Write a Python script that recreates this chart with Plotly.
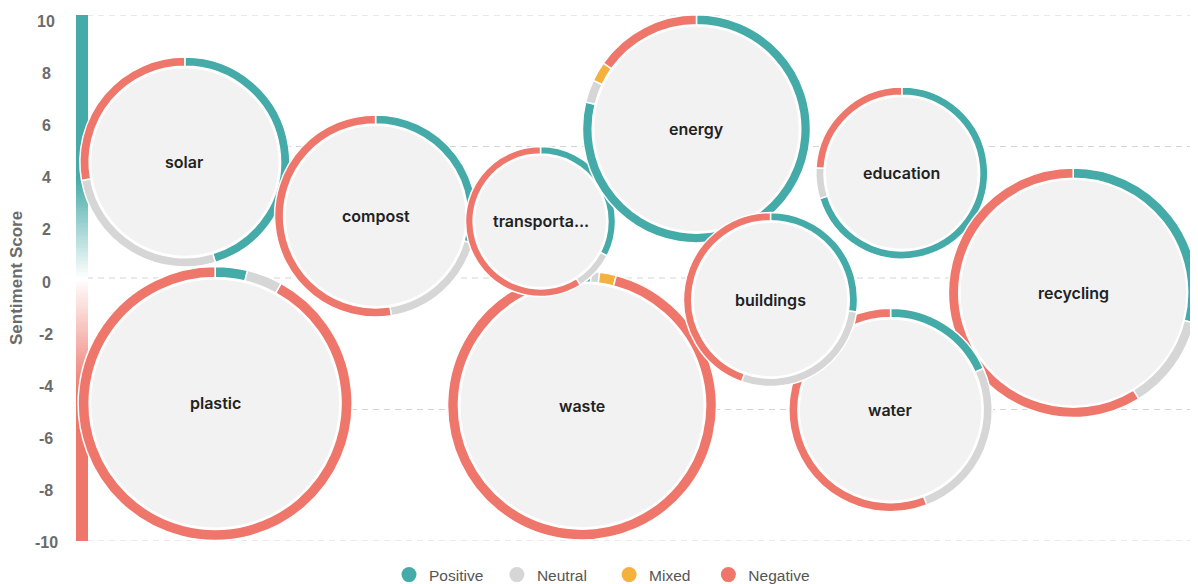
import numpy as np
import plotly.graph_objects as go

# topic bubbles: position on the (hidden) x axis, sentiment score, mention volume
topics = ["solar", "plastic", "compost", "waste", "transportation", "energy",
          "education", "recycling", "water", "buildings"]
x_pos = [9.7, 12.4, 26.7, 45.1, 41.4, 55.3, 73.6, 88.9, 72.6, 61.9]
sentiment_score = [4.41, -4.77, 2.36, -4.85, 2.15, 5.67, 3.99, -0.56, -5.02, -0.82]
mentions = [544, 927, 504, 893, 278, 642, 365, 772, 511, 374]

# sentiment split per topic (%)
positive = [45.3, 3.8, 29.4, 1.1, 32.6, 78.8, 70.2, 28.9, 18.3, 27.3]
neutral = [26.9, 4.2, 18.1, 1.0, 8.5, 3.2, 5.8, 12.3, 25.9, 28.1]
mixed = [0, 0, 0, 2.0, 0, 2.8, 0, 0, 0, 0]
negative = [27.8, 92.0, 52.5, 95.9, 58.9, 15.2, 24.0, 58.8, 55.8, 44.6]

sentiments = ["Positive", "Neutral", "Mixed", "Negative"]
score_ticks = [-10, -8, -6, -4, -2, 0, 2, 4, 6, 8, 10]
grid_scores = [-10, -5, 0, 5, 10]

COLORS = {"Positive": "#45ABA8", "Neutral": "#D6D6D6", "Mixed": "#F4B13D", "Negative": "#EE766B"}
FILL = "#F2F2F2"
AXIS_GREY = "#6B6B6B"

# page body has an 8px margin; the figure's right edge sits on the window edge
FIG_W, FIG_H = 1190, 584
X_DOM = [68 / FIG_W, 1.0]
Y_DOM = [51 / FIG_H, 577 / FIG_H]
X_RANGE = [0, 100]
Y_RANGE = [-10, 10]
R_SCALE = 4.5  # px per sqrt(mention)


def to_px(x, y):
    fx = X_DOM[0] + (x - X_RANGE[0]) / (X_RANGE[1] - X_RANGE[0]) * (X_DOM[1] - X_DOM[0])
    fy = Y_DOM[0] + (y - Y_RANGE[0]) / (Y_RANGE[1] - Y_RANGE[0]) * (Y_DOM[1] - Y_DOM[0])
    return fx * FIG_W, fy * FIG_H


def domain(cx, cy, r):
    return dict(
        x=[max(0.0, (cx - r) / FIG_W), min(1.0, (cx + r) / FIG_W)],
        y=[max(0.0, (cy - r) / FIG_H), min(1.0, (cy + r) / FIG_H)],
    )


fig = go.Figure()

# colour scale bar along the y axis
bar_y = np.linspace(Y_RANGE[0], Y_RANGE[1], 201)
fig.add_heatmap(
    x=[0], y=bar_y, z=[[v] for v in bar_y], xaxis="x2", yaxis="y",
    zmin=-10, zmax=10, showscale=False, hoverinfo="skip",
    colorscale=[[0, COLORS["Negative"]], [0.28, COLORS["Negative"]], [0.5, "#FFFFFF"],
                [0.69, COLORS["Positive"]], [1, COLORS["Positive"]]],
)

for i, name in enumerate(topics):
    cx, cy = to_px(x_pos[i], sentiment_score[i])
    r = R_SCALE * np.sqrt(mentions[i])
    ring_w = 3.5 + 0.055 * r
    vals = [positive[i], neutral[i], mixed[i], negative[i]]
    labs = [s for s, v in zip(sentiments, vals) if v > 0]
    vals = [v for v in vals if v > 0]

    fig.add_pie(
        values=[1], domain=domain(cx, cy, r - ring_w), sort=False,
        marker=dict(colors=[FILL], line=dict(color="white", width=4)),
        textinfo="none", hoverinfo="skip", showlegend=False,
    )
    fig.add_pie(
        values=vals, labels=labs, domain=domain(cx, cy, r), hole=(r - ring_w) / r,
        sort=False, direction="clockwise", rotation=0,
        marker=dict(colors=[COLORS[s] for s in labs], line=dict(color="white", width=1.5)),
        textinfo="none", hovertemplate=f"{name}<br>%{{label}}: %{{value}}%<extra></extra>",
        showlegend=False,
    )
    label = name if len(name) <= 11 else name[:10] + "..."
    fig.add_annotation(
        x=x_pos[i], y=sentiment_score[i], text=label, showarrow=False,
        font=dict(family="Inter", size=16, color="#222222", weight=600),
    )

# legend entries (non-breaking spaces widen the gaps between items)
legend_pad = {"Positive": 2, "Neutral": 4, "Mixed": 3, "Negative": 0}
for s in sentiments:
    fig.add_scatter(
        x=[None], y=[None], mode="markers", name=s + "\u00a0" * legend_pad[s],
        marker=dict(size=15, color=COLORS[s]),
    )

for g in grid_scores:
    fig.add_shape(
        type="line", xref="x domain", yref="y", x0=0, x1=1, y0=g, y1=g,
        line=dict(color="#D4D4D4", width=1, dash="6px,5px"), layer="below",
    )

# centred tick labels left of the colour bar
for t in score_ticks:
    fig.add_annotation(
        xref="paper", yref="y", x=38 / FIG_W, y=t, text=str(t), showarrow=False,
        xanchor="center", yshift=-(4 + 0.25 * t),
        font=dict(family="Liberation Sans", size=16, color=AXIS_GREY, weight="bold"),
    )
fig.add_annotation(
    xref="paper", yref="y", x=8 / FIG_W, y=0, text="Sentiment Score", showarrow=False,
    textangle=-90, xanchor="center",
    font=dict(family="Liberation Sans", size=17, color=AXIS_GREY, weight="bold"),
)

fig.update_layout(
    width=FIG_W, height=FIG_H, template="none",
    margin=dict(l=0, r=0, t=0, b=0, autoexpand=False),
    paper_bgcolor="white", plot_bgcolor="rgba(0,0,0,0)",
    xaxis=dict(domain=X_DOM, range=X_RANGE, visible=False, fixedrange=True),
    xaxis2=dict(domain=[X_DOM[0], 80 / FIG_W], range=[-0.5, 0.5], anchor="y",
                visible=False, fixedrange=True),
    yaxis=dict(
        domain=Y_DOM, range=Y_RANGE, showticklabels=False, showgrid=False,
        zeroline=False, showline=False, ticks="", automargin=False, fixedrange=True,
    ),
    legend=dict(
        orientation="h", x=381 / FIG_W, xanchor="left", y=0, yanchor="bottom",
        font=dict(family="Liberation Sans", size=15.5, color="#555555"),
        bgcolor="rgba(0,0,0,0)",
    ),
    showlegend=True,
)

fig.write_html("out.html")
